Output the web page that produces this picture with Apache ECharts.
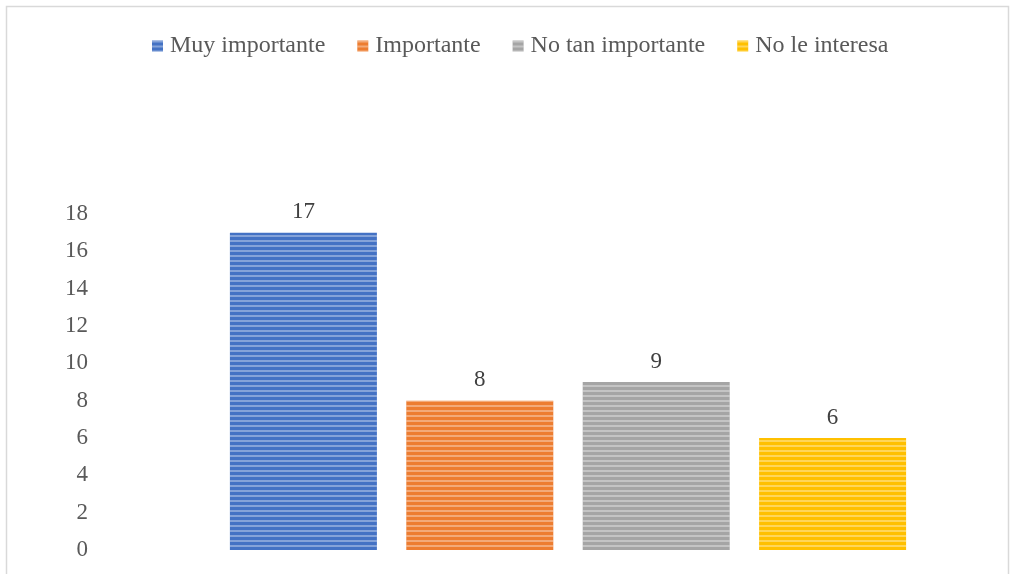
<!DOCTYPE html>
<html><head><meta charset="utf-8">
<script src="https://cdn.jsdelivr.net/npm/echarts@6/dist/echarts.min.js"></script>
<style>html,body{margin:0;padding:0;background:#fff}#c{width:1014px;height:574px}</style>
</head><body><div id="c"></div>
<script>
const category = [''];
const seriesNames = ['Muy importante', 'Importante', 'No tan importante', 'No le interesa'];
const seriesValues = [17, 8, 9, 6];
const seriesColors = ['#4472C4', '#ED7D31', '#A5A5A5', '#FFC000'];
const yTicks = [0, 18, 2];

const chart = echarts.init(document.getElementById('c'), null, {renderer: 'canvas'});
const font = '"Liberation Serif", "Times New Roman", serif';
chart.setOption({
  animation: false,
  textStyle: {fontFamily: font},
  graphic: [{type: 'rect', shape: {x: 6.5, y: 6.5, width: 1002, height: 580}, style: {fill: 'none', stroke: '#d9d9d9', lineWidth: 1.5}, silent: true}],
  legend: {
    top: 29, left: 147, itemWidth: 11, itemHeight: 11, itemGap: 32,
    icon: 'rect',
    textStyle: {fontFamily: font, fontSize: 24, color: '#595959', padding: [0, 0, 0, 2]},
    data: seriesNames
  },
  grid: {left: 130, right: 8, top: 214, bottom: 24, containLabel: false},
  xAxis: {type: 'category', data: category, axisLine: {show: false}, axisTick: {show: false}, axisLabel: {show: false}},
  yAxis: {type: 'value', min: yTicks[0], max: yTicks[1], interval: yTicks[2],
    axisLine: {show: false}, axisTick: {show: false}, splitLine: {show: false},
    axisLabel: {fontFamily: font, fontSize: 23, color: '#595959', margin: 42}},
  series: seriesNames.map((n, i) => ({
    name: n, type: 'bar', data: [seriesValues[i]],
    barWidth: 147, barGap: '20%',
    itemStyle: {color: seriesColors[i], decal: {symbol: 'rect', dashArrayX: [1, 0], dashArrayY: [2, 3], rotation: 0, color: 'rgba(255,255,255,0.35)'}},
    label: {show: true, position: 'top', distance: 9, fontFamily: font, fontSize: 23, color: '#404040'}
  }))
});
</script></body></html>
